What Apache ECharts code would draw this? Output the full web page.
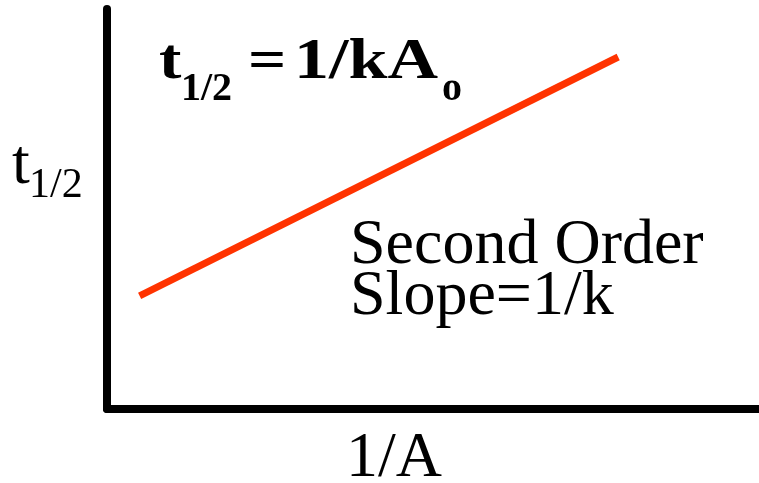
<!DOCTYPE html>
<html>
<head>
<meta charset="utf-8">
<script src="https://cdn.jsdelivr.net/npm/echarts@6/dist/echarts.min.js"></script>
<style>
html,body{margin:0;padding:0;background:#fff;}
#chart{width:759px;height:483px;}
</style>
</head>
<body>
<div id="chart"></div>
<script>
// Data: the red line's two end points (x = 1/A, y = t1/2, arbitrary units)
var invA = [5.0, 78.4];
var halfLife = [28.3, 88.0];
var xAxisName = '1/A';
var yAxisMain = 't';
var yAxisSub = '1/2';
var labelLine1 = 'Second Order';
var labelLine2 = 'Slope=1/k';

var points = invA.map(function (x, i) { return [x, halfLife[i]]; });
var serif = '"Liberation Serif"';

function txt(left, top, text, size, bold, sx) {
  return {
    type: 'text', left: left, top: top, scaleX: sx || 1,
    style: {text: text, font: (bold ? 'bold ' : '') + size + 'px ' + serif, fill: '#000'}
  };
}

var chart = echarts.init(document.getElementById('chart'), null, {renderer: 'canvas'});
chart.setOption({
  animation: false,
  backgroundColor: '#ffffff',
  grid: {left: 107, right: 0, top: 9, bottom: 74, containLabel: false},
  xAxis: {
    type: 'value', min: 0, max: 100,
    axisLine: {show: true, onZero: false, lineStyle: {color: '#000', width: 8}},
    axisTick: {show: false}, axisLabel: {show: false}, splitLine: {show: false}
  },
  yAxis: {
    type: 'value', min: 0, max: 100,
    axisLine: {show: true, onZero: false, lineStyle: {color: '#000', width: 8}},
    axisTick: {show: false}, axisLabel: {show: false}, splitLine: {show: false}
  },
  series: [{
    type: 'line',
    data: points,
    showSymbol: false,
    symbol: 'none',
    lineStyle: {color: '#ff3300', width: 7, cap: 'butt'}
  }],
  graphic: [
    // title formula
    txt(159, 36, 't', 56, true, 1.2),
    txt(181, 70, '1/2', 40, true, 1),
    txt(248, 36, '=', 56, true, 1.2),
    txt(294, 36, '1/kA', 56, true, 1.25),
    txt(442, 70, 'o', 40, true, 1),
    // y axis name
    txt(12, 134, yAxisMain, 64, false),
    txt(29, 165, yAxisSub, 42, false),
    // x axis name
    txt(346, 427, xAxisName, 64, false),
    // annotation
    txt(350, 214, labelLine1, 64, false),
    txt(350, 265, labelLine2, 64, false)
  ]
});
</script>
</body>
</html>
